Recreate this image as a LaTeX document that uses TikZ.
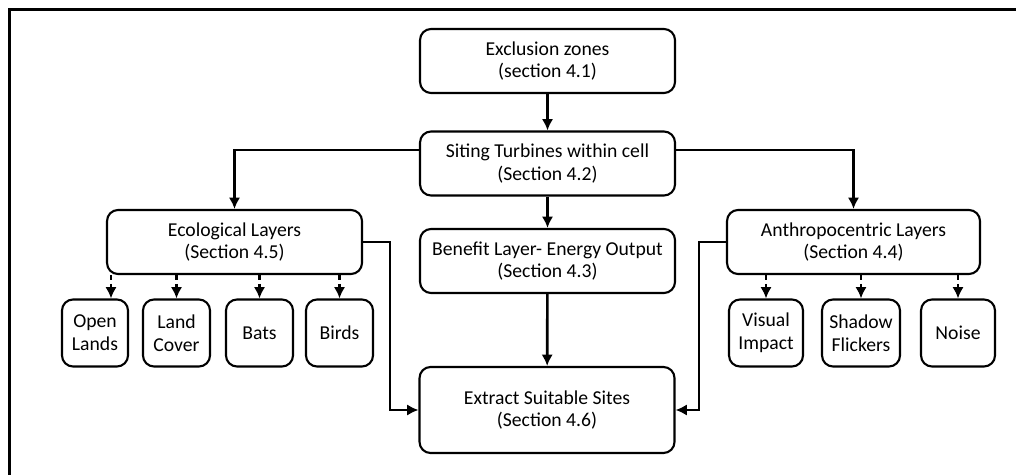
\documentclass[tikz,border=0pt]{standalone}
\usepackage{fontspec}
\setmainfont{Carlito}
\usepackage{tikz}
\usetikzlibrary{arrows.meta}

\begin{document}
\begin{tikzpicture}[x=0.02cm, y=-0.02cm,
	font=\fontsize{11.2}{13}\selectfont,
	box/.style={draw, line width=1.2pt, rounded corners=0.22cm, align=center, inner sep=2pt},
	bigbox/.style={box, minimum width=5.1cm, minimum height=1.28cm},
	leaf/.style={box, minimum height=1.34cm},
	arr/.style={line width=1.5pt, -{Latex[length=6.5pt,width=6.5pt]}},
	dasharr/.style={arr, dash pattern=on 3pt off 2pt}]
	\useasboundingbox (0,0) rectangle (1016,475);
	\draw[line width=1.8pt] (9.5,475) -- (9.5,9.5) -- (1016,9.5); % frame, top and left only

	% main column
	\node[bigbox] (excl) at (547.5,61) {Exclusion zones\\(section 4.1)};
	\node[bigbox] (siting) at (547.5,163.5) {Siting Turbines within cell\\(Section 4.2)};
	\node[bigbox] (benefit) at (547.5,261) {Benefit Layer- Energy Output\\(Section 4.3)};
	\node[bigbox, minimum height=1.72cm] (extract) at (547,410) {Extract Suitable Sites\\(Section 4.6)};

	% side layers
	\node[bigbox] (eco) at (234.5,242) {Ecological Layers\\(Section 4.5)};
	\node[bigbox, minimum width=5.06cm] (anthro) at (853.5,242) {Anthropocentric Layers\\(Section 4.4)};

	% ecological factors
	\node[leaf, minimum width=1.32cm] (open) at (95,333) {Open\\Lands};
	\node[leaf, minimum width=1.34cm] (land) at (176.5,333) {Land\\Cover};
	\node[leaf, minimum width=1.34cm] (bats) at (259.5,333) {Bats};
	\node[leaf, minimum width=1.34cm] (birds) at (339.5,333) {Birds};

	% anthropocentric factors
	\node[leaf, minimum width=1.48cm] (visual) at (766,333) {Visual\\Impact};
	\node[leaf, minimum width=1.56cm] (shadow) at (861,333) {Shadow\\Flickers};
	\node[leaf, minimum width=1.48cm] (noise) at (958,333) {Noise};

	\draw[arr] (excl) -- (siting);
	\draw[arr] (siting) -- (benefit);
	\draw[arr] (benefit) -- (extract);
	\draw[arr] ([yshift=0.27cm]siting.west) -| (eco.north);
	\draw[arr] ([yshift=0.27cm]siting.east) -| (anthro.north);
	\draw[arr] (eco.east) -- ++(27,0) |- (extract.west);
	\draw[arr] (anthro.west) -- ++(-27,0) |- (extract.east);

	\draw[dasharr] ([xshift=0.32cm]open.north |- eco.south) -- ([xshift=0.32cm]open.north);
	\foreach \n in {land,bats,birds,visual,shadow,noise}
		\draw[dasharr] (\n.north |- eco.south) -- (\n.north);
\end{tikzpicture}
\end{document}
